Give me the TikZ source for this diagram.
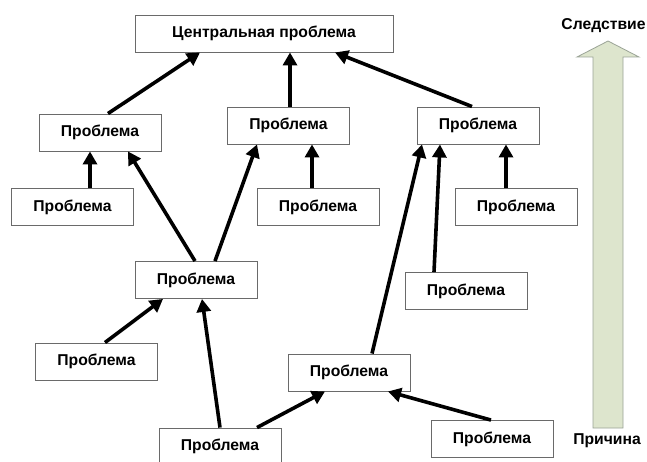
\documentclass[tikz,border=0pt]{standalone}
\usepackage{fontspec}
\setmainfont{Liberation Sans}
\usetikzlibrary{arrows.meta}
\definecolor{boxline}{HTML}{6A6A6A}
\definecolor{bigfill}{HTML}{DDE5CD}
\definecolor{bigline}{HTML}{9AA396}
\begin{document}
\begin{tikzpicture}[x=1pt,y=-1pt,
  prob/.style={draw=boxline,line width=0.9pt,fill=white,minimum width=122pt,minimum height=37pt,inner sep=0pt,font=\fontsize{15.7}{18}\selectfont\bfseries},
  arr/.style={line width=3.6pt,-{Triangle[length=13pt,width=14pt]}},
  lbl/.style={font=\fontsize{15.7}{18}\selectfont\bfseries,inner sep=0pt}]
\useasboundingbox (0,0) rectangle (647,462);
\clip (0,0) rectangle (647,462);
% big arrow
\fill[bigfill,draw=bigline,line width=0.8pt] (593,428) -- (593,57) -- (577,57) -- (608,41) -- (639,57) -- (623,57) -- (623,428) -- cycle;
\node[lbl] (cons) at (603.5,26) {Следствие};
\node[lbl] (cause) at (607,441) {Причина};
% boxes
\node[prob,minimum width=258pt] (c) at (264,33.5) {Центральная проблема};
\node[prob] (p1) at (100,132.5) {Проблема};
\node[prob] (p2) at (288.5,125.5) {Проблема};
\node[prob] (p3) at (478,125.5) {Проблема};
\node[prob] (p4) at (72.5,207) {Проблема};
\node[prob] (p5) at (318,207) {Проблема};
\node[prob] (p6) at (516,207) {Проблема};
\node[prob] (p7) at (196,280) {Проблема};
\node[prob] (p8) at (96.5,361.5) {Проблема};
\node[prob] (p9) at (220,446.5) {Проблема};
\node[prob] (p10) at (466,291) {Проблема};
\node[prob] (p11) at (349,372.5) {Проблема};
\node[prob] (p12) at (492,439) {Проблема};
% arrows
\draw[arr] ([xshift=8pt]p1.north) -- ([xshift=-64pt]c.south);
\draw[arr] ([xshift=1.5pt]p2.north) -- ([xshift=26pt]c.south);
\draw[arr] ([xshift=-6pt]p3.north) -- ([xshift=71pt]c.south);
\draw[arr] ([xshift=17.5pt]p4.north) -- ([xshift=-10pt]p1.south);
\draw[arr] ([xshift=-1pt]p7.north) -- ([xshift=28pt]p1.south);
\draw[arr] ([xshift=19pt]p7.north) -- ([xshift=-31.5pt]p2.south);
\draw[arr] ([xshift=-6pt]p5.north) -- ([xshift=23.5pt]p2.south);
\draw[arr] ([xshift=-10pt]p6.north) -- ([xshift=28pt]p3.south);
\draw[arr] ([xshift=23pt]p11.north) -- ([xshift=-56pt]p3.south);
\draw[arr] ([xshift=-32pt]p10.north) -- ([xshift=-38pt]p3.south);
\draw[arr] ([xshift=8.5pt]p8.north) -- ([xshift=-33pt]p7.south);
\draw[arr] ([xshift=0pt]p9.north) -- ([xshift=6pt]p7.south);
\draw[arr] ([xshift=37pt]p9.north) -- ([xshift=-24pt]p11.south);
\draw[arr] ([xshift=-1pt]p12.north) -- ([xshift=39pt]p11.south);
\end{tikzpicture}
\end{document}
